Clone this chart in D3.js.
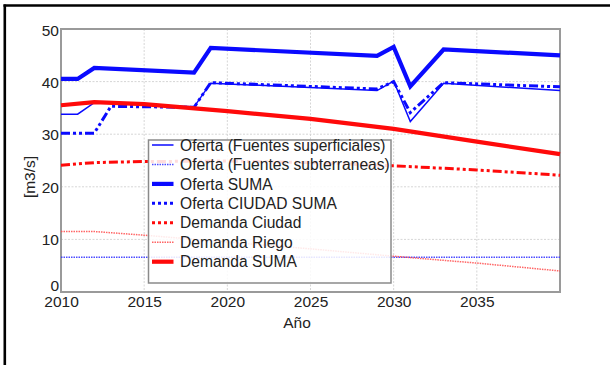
<!DOCTYPE html>
<html>
<head>
<meta charset="utf-8">
<script src="https://cdn.jsdelivr.net/npm/d3@7"></script>
<style>
  html, body { margin: 0; padding: 0; background: #fff; }
  svg { display: block; font-family: "Liberation Sans", Arial, sans-serif; }
</style>
</head>
<body>
<svg id="chart" width="610" height="365"></svg>
<script>
// Supply series (m3/s) at their breakpoints
const ofertaYears = [2010, 2011, 2012, 2018, 2019, 2029, 2030, 2031, 2033, 2040];
const ofertaSuperficiales = [33.8, 33.8, 36.0, 35.2, 39.7, 38.3, 40.1, 32.4, 39.7, 38.3];
const ofertaSubterraneas = [6.6, 6.6, 6.6, 6.6, 6.6, 6.6, 6.6, 6.6, 6.6, 6.6];
const ofertaSuma = [40.5, 40.5, 42.6, 41.7, 46.4, 44.9, 46.6, 39.1, 46.1, 45.0];

const ciudadYears = [2010, 2011, 2012, 2013, 2018, 2019, 2029, 2030, 2031, 2033, 2040];
const ofertaCiudadSuma = [30.2, 30.2, 30.2, 35.3, 35.1, 39.8, 38.6, 40.0, 34.1, 39.8, 39.0];

// Demand series (m3/s)
const demandaYears = [2010, 2012, 2015, 2020, 2025, 2030, 2035, 2040];
const demandaCiudad = [24.1, 24.6, 24.8, 24.9, 24.6, 24.0, 23.2, 22.2];
const demandaRiego = [11.5, 11.5, 10.8, 9.5, 8.2, 6.8, 5.5, 4.0];
const demandaSuma = [35.5, 36.1, 35.7, 34.4, 32.9, 31.0, 28.6, 26.2];

const xTicks = [2010, 2015, 2020, 2025, 2030, 2035];
const yTicks = [0, 10, 20, 30, 40, 50];

const legendLabels = [
  "Oferta (Fuentes superficiales)",
  "Oferta (Fuentes subterraneas)",
  "Oferta SUMA",
  "Oferta CIUDAD SUMA",
  "Demanda Ciudad",
  "Demanda Riego",
  "Demanda SUMA"
];

const svg = d3.select("#chart");
const W = 610, H = 365;
const m = { left: 61, right: 560, top: 29, bottom: 292 };
const FONT = 15.5, LEGEND_FONT = 15.6;

const x = d3.scaleLinear().domain([2010, 2040]).range([m.left, m.right]);
const y = d3.scaleLinear().domain([0, 50]).range([m.bottom, m.top]);

// page frame (top and left rules)
svg.append("line").attr("x1", 3.5).attr("x2", W).attr("y1", 5.5).attr("y2", 5.5)
  .attr("stroke", "#000").attr("stroke-width", 2.6);
svg.append("line").attr("x1", 4.8).attr("x2", 4.8).attr("y1", 4.5).attr("y2", H)
  .attr("stroke", "#000").attr("stroke-width", 2.6);

// grid
const grid = svg.append("g").attr("stroke", "#d6d6d6").attr("stroke-width", 1)
  .attr("stroke-dasharray", "2,1.5");
grid.selectAll(".vx").data(xTicks.slice(1)).join("line")
  .attr("x1", d => x(d)).attr("x2", d => x(d))
  .attr("y1", m.top).attr("y2", m.bottom);
grid.selectAll(".hy").data(yTicks.slice(1, -1)).join("line")
  .attr("x1", m.left).attr("x2", m.right)
  .attr("y1", d => y(d)).attr("y2", d => y(d));

// axes (labels only, frame drawn separately)
const xAxis = svg.append("g").attr("transform", `translate(0,${m.bottom})`)
  .call(d3.axisBottom(x).tickValues(xTicks).tickFormat(d3.format("d")).tickSize(0).tickPadding(4));
const yAxis = svg.append("g").attr("transform", `translate(${m.left},0)`)
  .call(d3.axisLeft(y).tickValues(yTicks).tickSize(0).tickPadding(2));
[xAxis, yAxis].forEach(g => {
  g.select(".domain").remove();
  g.selectAll("text").attr("font-size", FONT).attr("fill", "#222")
    .attr("font-family", "'Liberation Sans', Arial, sans-serif");
});
yAxis.selectAll(".tick text").attr("dy", "0.36em");
yAxis.selectAll(".tick").filter(d => d === 0).select("text").attr("dy", "-0.1em");
yAxis.selectAll(".tick").filter(d => d === 50).select("text").attr("dy", "0.45em");

// plot frame
svg.append("rect").attr("x", m.left).attr("y", m.top)
  .attr("width", m.right - m.left).attr("height", m.bottom - m.top)
  .attr("fill", "none").attr("stroke", "#9a9a9a").attr("stroke-width", 2);

// axis titles
svg.append("text").attr("x", 297).attr("y", 328).attr("text-anchor", "middle")
  .attr("font-size", FONT).attr("fill", "#222").text("Año");
svg.append("text").attr("transform", "translate(35,177) rotate(-90)")
  .attr("text-anchor", "middle").attr("font-size", FONT).attr("fill", "#222").text("[m3/s]");

const BLUE = "#0a0aff", RED = "#ff0a0a";
const dashDot = "9,3,3,3,3,3";

const styles = [
  { color: BLUE, width: 1.5, dash: null, opacity: 1 },
  { color: "#3a3aff", width: 1.5, dash: "1.5,1", opacity: 0.9 },
  { color: BLUE, width: 4.2, dash: null, opacity: 1 },
  { color: BLUE, width: 3, dash: dashDot, opacity: 1, legendDash: "3,3" },
  { color: RED, width: 3, dash: dashDot, opacity: 1, legendDash: "3,3" },
  { color: "#ff4a4a", width: 1.5, dash: "1.5,1", opacity: 0.85 },
  { color: RED, width: 4.2, dash: null, opacity: 1 }
];

const series = [
  { xs: ofertaYears, ys: ofertaSuperficiales },
  { xs: ofertaYears, ys: ofertaSubterraneas },
  { xs: ofertaYears, ys: ofertaSuma },
  { xs: ciudadYears, ys: ofertaCiudadSuma },
  { xs: demandaYears, ys: demandaCiudad },
  { xs: demandaYears, ys: demandaRiego },
  { xs: demandaYears, ys: demandaSuma }
];

const line = d3.line().x(d => x(d[0])).y(d => y(d[1]));
const plot = svg.append("g");
series.forEach((s, i) => {
  const st = styles[i];
  plot.append("path")
    .datum(s.xs.map((yr, k) => [yr, s.ys[k]]))
    .attr("d", line)
    .attr("fill", "none")
    .attr("stroke", st.color)
    .attr("stroke-width", st.width)
    .attr("stroke-opacity", st.opacity)
    .attr("stroke-dasharray", st.dash)
    .attr("stroke-linejoin", "miter");
});

// legend
const lg = svg.append("g");
lg.append("rect").attr("x", 148.5).attr("y", 140).attr("width", 242.5).attr("height", 143)
  .attr("fill", "#fff").attr("fill-opacity", 0.86)
  .attr("stroke", "#8a8a8a").attr("stroke-width", 1.5);
legendLabels.forEach((lab, i) => {
  const st = styles[i];
  const cy = 145 + i * 19.45;
  lg.append("line").attr("x1", 152).attr("x2", 173.5).attr("y1", cy).attr("y2", cy)
    .attr("stroke", st.color).attr("stroke-width", st.width)
    .attr("stroke-opacity", st.opacity)
    .attr("stroke-dasharray", st.legendDash || st.dash);
  lg.append("text").attr("x", 180).attr("y", cy).attr("dy", "0.36em")
    .attr("font-size", LEGEND_FONT).attr("fill", "#222").text(lab);
});
</script>
</body>
</html>
